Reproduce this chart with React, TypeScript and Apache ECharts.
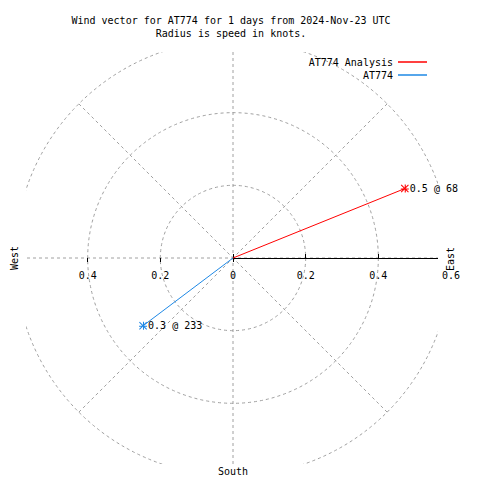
import React, { useEffect, useRef } from 'react';
import * as echarts from 'echarts';

const titleLines = ['Wind vector for AT774 for 1 days from 2024-Nov-23 UTC', 'Radius is speed in knots.'];
const seriesNames = ['AT774 Analysis', 'AT774'];
const seriesColors = ['#ff0000', '#1e88e5'];
const speeds = [0.51, 0.31];
const directions = [68, 233];
const radiusMax = 0.6;
const radiusStep = 0.2;
const angleStep = 45;
const compassNames = ['West', 'East', 'South'];

const FONT = 'DejaVu Sans Mono';
const GRID = '#a0a0a0';
const STAR =
  'path://M0,4.4L9,4.4L9,5.6L0,5.6Z M4.4,0L5.6,0L5.6,9L4.4,9Z M0.8,0L9,8.2L8.2,9L0,0.8Z M8.2,0L9,0.8L0.8,9L0,8.2Z';

const CENTER = [233, 258];
const RADIUS = 218;

export default function App() {
  const ref = useRef<HTMLDivElement>(null);
  useEffect(() => {
    if (!ref.current) return;
    const chart = echarts.init(ref.current, null, { renderer: 'svg' });
    const polarDefs = [
      { start: 90 }, // 0 data + grid
      { start: 0 }, // 1 right axis line + ticks outside
      { start: 0 }, // 2 right ticks inside
      { start: 0 }, // 3 right labels
      { start: 180 }, // 4 left ticks + labels
      { start: 180 }, // 5 left ticks inside
    ];
    const baseRadius = { min: 0, max: radiusMax, interval: radiusStep };
    const hiddenRadius = {
      axisLine: { show: false },
      axisTick: { show: false },
      axisLabel: { show: false },
      splitLine: { show: false },
    };
    const labelStyle = { fontFamily: FONT, fontSize: 10, color: '#000' };
    const option: any = {
      animation: false,
      backgroundColor: '#fff',
      title: {
        text: titleLines.join('\n'),
        left: 231,
        top: 14,
        padding: 0,
        textAlign: 'center',
        textStyle: { fontFamily: FONT, fontSize: 10, fontWeight: 'normal', color: '#000', lineHeight: 13 },
      },
      legend: seriesNames.map((n, i) => ({
        data: [n],
        right: 53,
        top: 57 + i * 13,
        padding: 0,
        orient: 'vertical',
        align: 'right',
        icon: 'rect',
        itemWidth: 29,
        itemHeight: 1.5,
        selectedMode: false,
        textStyle: { fontFamily: FONT, fontSize: 10, color: '#000' },
        z: 6,
      })),
      polar: polarDefs.map(() => ({ center: CENTER, radius: RADIUS })),
      angleAxis: polarDefs.map((p, i) =>
        i === 0
          ? {
              polarIndex: 0,
              startAngle: p.start,
              clockwise: true,
              min: 0,
              max: 360,
              interval: angleStep,
              axisLine: { show: false },
              axisTick: { show: false },
              axisLabel: { show: false },
              splitLine: { show: true, lineStyle: { color: GRID, width: 1, type: [3, 3] } },
              z: 0,
            }
          : { polarIndex: i, startAngle: p.start, min: 0, max: 360, show: false }
      ),
      radiusAxis: [
        {
          polarIndex: 0,
          ...baseRadius,
          ...hiddenRadius,
          splitLine: { show: true, lineStyle: { color: GRID, width: 1, type: [3, 3] } },
          z: 0,
        },
        {
          polarIndex: 1,
          ...baseRadius,
          ...hiddenRadius,
          axisLine: { show: true, lineStyle: { color: '#000', width: 1 } },
          axisTick: { show: true, length: 4, lineStyle: { color: '#000', width: 1 } },
          z: 1,
        },
        {
          polarIndex: 2,
          ...baseRadius,
          ...hiddenRadius,
          axisTick: { show: true, inside: true, length: 4, lineStyle: { color: '#000', width: 1 } },
          z: 1,
        },
        {
          polarIndex: 3,
          ...baseRadius,
          ...hiddenRadius,
          axisLabel: { show: true, margin: -17, align: 'center', verticalAlign: 'middle', ...labelStyle },
          z: 10,
        },
        {
          polarIndex: 4,
          ...baseRadius,
          ...hiddenRadius,
          axisTick: { show: true, length: 4, lineStyle: { color: '#000', width: 1 } },
          axisLabel: {
            show: true,
            margin: 17,
            align: 'center',
            verticalAlign: 'middle',
            ...labelStyle,
            formatter: (v: number) => (v > 0 && v < radiusMax - 1e-6 ? String(v) : ''),
          },
          z: 1,
        },
        {
          polarIndex: 5,
          ...baseRadius,
          ...hiddenRadius,
          axisTick: { show: true, inside: true, length: 4, lineStyle: { color: '#000', width: 1 } },
          z: 1,
        },
      ],
      graphic: {
        elements: [
          { type: 'rect', shape: { x: 0, y: 0, width: 480, height: 52 }, style: { fill: '#fff' }, z: 2, silent: true },
          { type: 'rect', shape: { x: 0, y: 464, width: 480, height: 16 }, style: { fill: '#fff' }, z: 2, silent: true },
          { type: 'rect', shape: { x: 0, y: 0, width: 26, height: 480 }, style: { fill: '#fff' }, z: 2, silent: true },
          { type: 'rect', shape: { x: 438, y: 0, width: 42, height: 480 }, style: { fill: '#fff' }, z: 2, silent: true },
          {
            type: 'text', x: 14, y: 258, rotation: Math.PI / 2, z: 10,
            style: { text: compassNames[0], fontFamily: FONT, fontSize: 10, fill: '#000', align: 'center', verticalAlign: 'middle' },
          },
          {
            type: 'text', x: 450, y: 259, rotation: Math.PI / 2, z: 10,
            style: { text: compassNames[1], fontFamily: FONT, fontSize: 10, fill: '#000', align: 'center', verticalAlign: 'middle' },
          },
          {
            type: 'text', x: 233, y: 471, z: 10,
            style: { text: compassNames[2], fontFamily: FONT, fontSize: 10, fill: '#000', align: 'center', verticalAlign: 'middle' },
          },
        ],
      },
      series: seriesNames.map((name, i) => ({
        type: 'line',
        name,
        coordinateSystem: 'polar',
        polarIndex: 0,
        showSymbol: true,
        clip: false,
        z: 3,
        color: seriesColors[i],
        lineStyle: { color: seriesColors[i], width: 1 },
        itemStyle: { color: seriesColors[i] },
        data: [
          { value: [0, directions[i]], symbol: 'none' },
          {
            value: [speeds[i], directions[i]],
            symbol: STAR,
            symbolSize: 8,
            label: {
              show: true,
              position: 'right',
              distance: 1,
              ...labelStyle,
              formatter: () => `${speeds[i].toFixed(1)} @ ${directions[i]}`,
            },
          },
        ],
      })),
    };
    chart.setOption(option);
    return () => chart.dispose();
  }, []);
  return (
    <div
      ref={ref}
      style={{ position: 'fixed', left: 0, top: 0, width: 480, height: 480, background: '#fff' }}
    />
  );
}
